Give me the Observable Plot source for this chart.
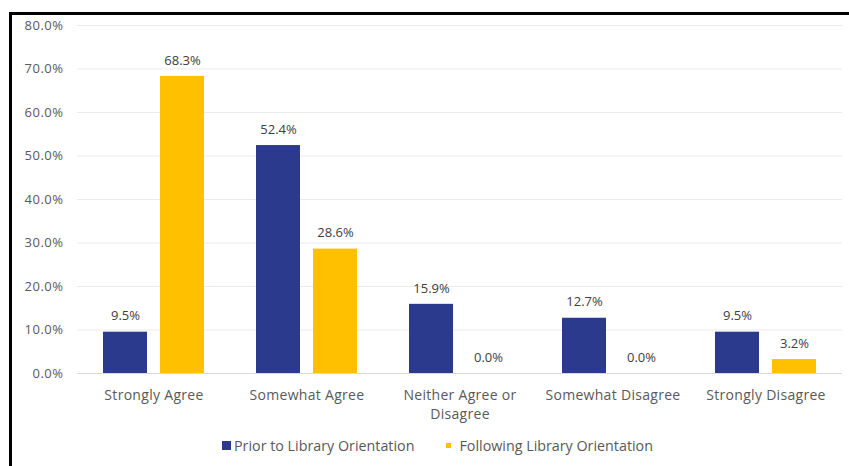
<!DOCTYPE html>
<html>
<head>
<meta charset="utf-8">
<script src="https://cdn.jsdelivr.net/npm/d3@7"></script>
<script src="https://cdn.jsdelivr.net/npm/@observablehq/plot@0.6"></script>
<style>
  body { margin: 0; background: #fff; font-family: "Open Sans", Lato, sans-serif; }
  #chart { position: absolute; left: 0; top: 0; }
  #chart g[aria-label="fx-axis tick label"] text { letter-spacing: 0.3px; }
  #chart g[aria-label="y-axis tick label"] text { letter-spacing: 0.5px; }
  #frame { position: absolute; left: 9px; top: 12px; width: 860px; height: 470px;
           border-left: 3px solid #000; border-top: 3px solid #000; pointer-events: none; z-index: 2; }
  #legend { position: absolute; left: 222px; top: 436px; display: flex; align-items: center;
            font-size: 14.3px; color: #595959; white-space: nowrap; }
  .sw { display: inline-block; margin-right: 3px; }
</style>
</head>
<body>
<div id="chart"></div>
<div id="legend"></div>
<div id="frame"></div>
<script>
const categories = ["Strongly Agree", "Somewhat Agree", "Neither Agree or Disagree", "Somewhat Disagree", "Strongly Disagree"];
const seriesNames = ["Prior to Library Orientation", "Following Library Orientation"];
const priorValues = [9.5, 52.4, 15.9, 12.7, 9.5];
const followingValues = [68.3, 28.6, 0.0, 0.0, 3.2];
const yTicks = [0, 10, 20, 30, 40, 50, 60, 70, 80];
const colors = ["#2B3A8C", "#FFC000"];

const data = categories.flatMap((c, i) => [
  {category: c, series: seriesNames[0], value: priorValues[i]},
  {category: c, series: seriesNames[1], value: followingValues[i]}
]);

const wrap = d => d === "Neither Agree or Disagree" ? "Neither Agree or\nDisagree" : d;

const chart = Plot.plot({
  width: 849,
  height: 430,
  marginLeft: 76,
  marginRight: 6,
  marginTop: 25,
  marginBottom: 57,
  style: {fontFamily: "'Open Sans', Lato, sans-serif", background: "transparent"},
  fx: {domain: categories, padding: 0, label: null, axis: null},
  x: {domain: seriesNames, paddingInner: 0.228, paddingOuter: 0.456, axis: null},
  y: {domain: [0, 80], label: null, axis: null},
  color: {domain: seriesNames, range: colors},
  marks: [
    Plot.gridY(yTicks, {stroke: "#ebebeb", strokeOpacity: 1}),
    Plot.axisY(yTicks, {tickSize: 0, tickPadding: 14, tickFormat: d => d.toFixed(1) + "%", fontSize: 13, fill: "#595959", label: null}),
    Plot.axisFx({anchor: "bottom", tickSize: 0, tickPadding: 13, fontSize: 14, lineHeight: 1.35, fill: "#595959", label: null, tickFormat: wrap}),
    Plot.ruleY([0], {stroke: "#d9d9d9"}),
    Plot.barY(data, {fx: "category", x: "series", y: "value", fill: "series"}),
    Plot.text(data, {fx: "category", x: "series", y: "value", text: d => d.value.toFixed(1) + "%", dy: -16, fontSize: 13, fill: "#404040"})
  ]
});
document.getElementById("chart").append(chart);

const legend = document.getElementById("legend");
const swSizes = [9, 5];
seriesNames.forEach((s, i) => {
  const item = document.createElement("span");
  item.style.display = "inline-flex";
  item.style.alignItems = "center";
  item.style.marginRight = i === 0 ? "32px" : "0";
  const sw = document.createElement("span");
  sw.className = "sw";
  sw.style.width = swSizes[i] + "px";
  sw.style.height = swSizes[i] + "px";
  sw.style.background = colors[i];
  if (i === 1) sw.style.marginRight = "8px";
  item.append(sw, document.createTextNode(s));
  legend.append(item);
});
</script>
</body>
</html>
